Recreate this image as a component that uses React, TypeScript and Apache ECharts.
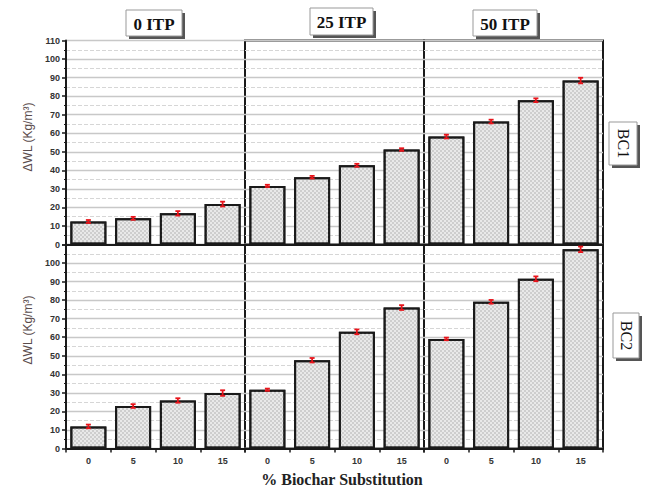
import React, { useEffect, useRef } from "react";
import * as echarts from "echarts";

const categories = ["0", "5", "10", "15"];
const panelTitles = ["0 ITP", "25 ITP", "50 ITP"];
const rowTitles = ["BC1", "BC2"];
const yTicksMax = 110;

const bc1_0 = [12.4, 14.1, 16.8, 21.8];
const bc1_25 = [31.6, 36.3, 42.7, 51.2];
const bc1_50 = [58.2, 66.3, 77.8, 88.4];
const bc2_0 = [11.9, 22.9, 25.9, 29.9];
const bc2_25 = [31.7, 47.6, 62.9, 76.0];
const bc2_50 = [59.1, 79.1, 91.5, 107.4];

const err1_0 = [0.8, 0.8, 1.2, 1.3];
const err1_25 = [0.6, 0.7, 0.8, 0.7];
const err1_50 = [1.0, 1.0, 1.0, 1.5];
const err2_0 = [1.0, 1.0, 1.2, 1.5];
const err2_25 = [0.6, 1.2, 1.3, 1.3];
const err2_50 = [0.7, 1.0, 1.3, 1.5];

const values = [bc1_0, bc1_25, bc1_50, bc2_0, bc2_25, bc2_50];
const errors = [err1_0, err1_25, err1_50, err2_0, err2_25, err2_50];

const SANS = "'Liberation Sans', Arial, sans-serif";
const SERIF = "'Liberation Serif', 'Times New Roman', serif";

export default function App() {
  const ref = useRef<HTMLDivElement>(null);
  useEffect(() => {
    if (!ref.current) return;
    const chart = echarts.init(ref.current, undefined, { renderer: "svg" });
    const L = 66, W = 179, H = 204, T1 = 40.5, T2 = 244.5;
    const grids: any[] = [];
    const xAxes: any[] = [];
    const yAxes: any[] = [];
    const series: any[] = [];
    for (let r = 0; r < 2; r++) {
      for (let c = 0; c < 3; c++) {
        const k = r * 3 + c;
        grids.push({
          left: L + c * W,
          top: r === 0 ? T1 : T2,
          width: W,
          height: H,
          show: c !== 0,
          borderColor: "#1a1a1a",
          borderWidth: 2,
          backgroundColor: "transparent",
        });
        xAxes.push({
          type: "category",
          gridIndex: k,
          data: categories,
          axisLine: { show: true, lineStyle: { color: "#1a1a1a", width: 2 } },
          axisTick: { show: r === 1, length: 4, alignWithLabel: false, lineStyle: { color: "#1a1a1a", width: 1.5 } },
          axisLabel: { show: r === 1, fontFamily: SANS, fontWeight: "bold", fontSize: 9, color: "#333", margin: 8 },
          splitLine: { show: false },
        });
        yAxes.push({
          type: "value",
          gridIndex: k,
          min: 0,
          max: yTicksMax,
          interval: 10,
          axisLine: { show: c === 0, lineStyle: { color: "#1a1a1a", width: 2 } },
          axisTick: { show: c === 0, length: 4, lineStyle: { color: "#1a1a1a", width: 1.5 } },
          minorTick: { show: c === 0, splitNumber: 2, length: 2, lineStyle: { color: "#1a1a1a" } },
          axisLabel: {
            show: c === 0,
            fontFamily: SANS,
            fontWeight: "bold",
            fontSize: 9,
            color: "#333",
            margin: 6,
            formatter: (v: number) => (r === 1 && v === 110 ? "" : String(v)),
          },
          splitLine: { show: true, lineStyle: { color: "#c8c8c8", width: 1.3 } },
          minorSplitLine: { show: true, lineStyle: { color: "#d6d6d6", width: 1, type: "dashed" } },
        });
        series.push({
          type: "bar",
          xAxisIndex: k,
          yAxisIndex: k,
          data: values[k],
          barWidth: 36,
          itemStyle: {
            color: "#e9e9e9",
            borderColor: "#1a1a1a",
            borderWidth: 2,
            decal: {
              symbol: "rect",
              symbolSize: 0.7,
              color: "#b5b5b5",
              backgroundColor: "#e9e9e9",
              dashArrayX: [[2, 2], [0, 2, 2, 0]],
              dashArrayY: [2, 0],
              rotation: 0,
            },
          },
          z: 2,
        });
        series.push({
          type: "custom",
          xAxisIndex: k,
          yAxisIndex: k,
          encode: { x: 0, y: 1 },
          data: values[k].map((v, i) => [i, v, errors[k][i]]),
          z: 5,
          renderItem: (params: any, api: any) => {
            const x = api.value(0);
            const v = api.value(1);
            const e = api.value(2);
            const top = api.coord([x, v + e]);
            const bot = api.coord([x, v - e]);
            const hw = 2.5;
            const st = { stroke: "#e8141b", lineWidth: 1.8 };
            return {
              type: "group",
              children: [
                { type: "line", shape: { x1: top[0], y1: top[1], x2: bot[0], y2: bot[1] }, style: st },
                { type: "line", shape: { x1: top[0] - hw, y1: top[1], x2: top[0] + hw, y2: top[1] }, style: st },
                { type: "line", shape: { x1: bot[0] - hw, y1: bot[1], x2: bot[0] + hw, y2: bot[1] }, style: st },
              ],
            };
          },
        });
      }
    }

    const titleBoxes = [
      { x: 126, y: 10, w: 56, h: 26 },
      { x: 310, y: 8, w: 63, h: 27 },
      { x: 473, y: 10, w: 64, h: 26 },
    ];
    const rowBoxes = [
      { x: 609, y: 122, w: 28, h: 43 },
      { x: 613, y: 313, w: 26, h: 45 },
    ];
    const graphics: any[] = [];
    titleBoxes.forEach((b, i) => {
      graphics.push({ type: "rect", shape: { x: b.x + 3, y: b.y + 3, width: b.w, height: b.h }, style: { fill: "#555" }, silent: true });
      graphics.push({ type: "rect", shape: { x: b.x, y: b.y, width: b.w, height: b.h }, style: { fill: "#fff", stroke: "#999", lineWidth: 1 }, silent: true });
      graphics.push({
        type: "text",
        x: b.x + b.w / 2,
        y: b.y + b.h / 2 + 1,
        style: { text: panelTitles[i], font: `bold 17px ${SERIF}`, fill: "#111", align: "center", verticalAlign: "middle" },
      });
    });
    rowBoxes.forEach((b, i) => {
      graphics.push({ type: "rect", shape: { x: b.x + 3, y: b.y + 3, width: b.w, height: b.h }, style: { fill: "#555" }, silent: true });
      graphics.push({ type: "rect", shape: { x: b.x, y: b.y, width: b.w, height: b.h }, style: { fill: "#fff", stroke: "#999", lineWidth: 1 }, silent: true });
      graphics.push({
        type: "text",
        x: b.x + b.w / 2,
        y: b.y + b.h / 2,
        rotation: -Math.PI / 2,
        style: { text: rowTitles[i], font: `16px ${SERIF}`, fill: "#111", align: "center", verticalAlign: "middle" },
      });
    });
    [137, 330].forEach((cy) => {
      graphics.push({
        type: "text",
        x: 28,
        y: cy,
        rotation: Math.PI / 2,
        style: { text: "\u0394WL (Kg/m\u00B3)", font: `12px ${SANS}`, fill: "#5a4c4c", align: "center", verticalAlign: "middle" },
      });
    });
    graphics.push({
      type: "text",
      x: 342,
      y: 479,
      style: { text: "% Biochar Substitution", font: `bold 16px ${SERIF}`, fill: "#222", align: "center", verticalAlign: "middle" },
    });

    chart.setOption({
      animation: false,
      backgroundColor: "#fff",
      grid: grids,
      xAxis: xAxes,
      yAxis: yAxes,
      series,
      graphic: graphics,
    });
    return () => chart.dispose();
  }, []);
  return <div ref={ref} style={{ position: "fixed", left: 0, top: 0, width: 649, height: 491 }} />;
}
